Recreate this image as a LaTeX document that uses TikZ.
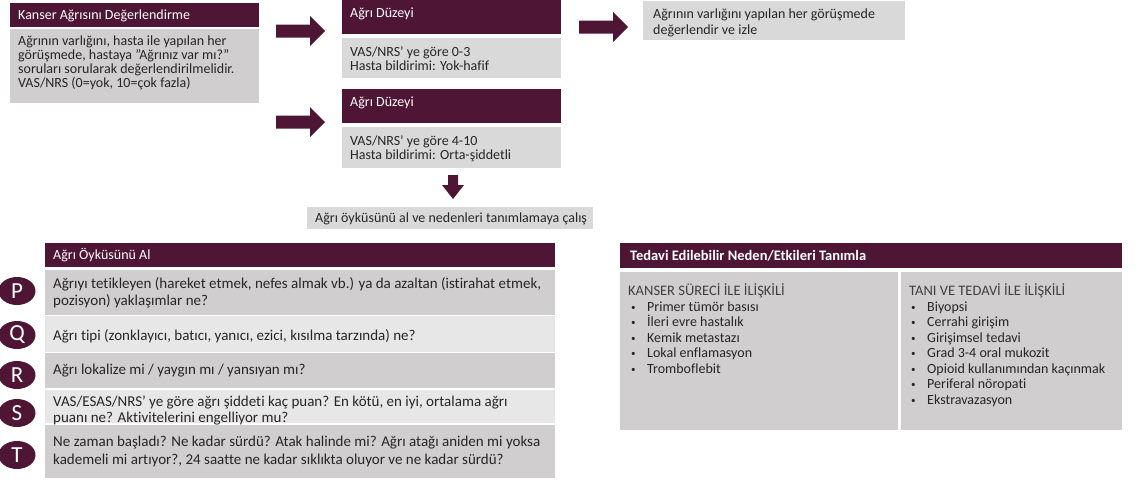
\documentclass[tikz,border=0pt]{standalone}
\usepackage{fontspec}
\setmainfont{Carlito}[Ligatures={TeX,NoCommon}]
\usetikzlibrary{calc,shapes.geometric}
\definecolor{maroon}{HTML}{4E1534}
\definecolor{lgray}{HTML}{D9D9D9}
\definecolor{mgray}{HTML}{D0CECE}
\definecolor{pgray}{HTML}{E8E7E7}
\definecolor{txt}{HTML}{262626}
\definecolor{subtxt}{HTML}{404040}
\tikzset{
  box/.style={draw=none, anchor=north west, inner sep=0pt, outer sep=0pt},
  hdr/.style={box, fill=maroon},
  hdrtxt/.style={text=white, anchor=base west, inner sep=0pt, font=\fontsize{14}{14}\selectfont},
  boldtxt/.style={hdrtxt, font=\fontsize{14.5}{14}\selectfont\bfseries},
  btxt/.style={text=txt, anchor=base west, inner sep=0pt, align=left, font=\fontsize{14}{14}\selectfont},
  subhead/.style={btxt, text=subtxt, font=\fontsize{14.5}{14}\selectfont},
  rtxt/.style={text=txt, anchor=base west, inner sep=0pt, align=left, font=\fontsize{15}{17}\selectfont},
  letter/.style={ellipse, fill=maroon, text=white, minimum width=37pt, minimum height=28pt, inner sep=0pt, font=\fontsize{23}{23}\selectfont},
  rarr/.pic={\fill[maroon] (0,-6.5) -- (34,-6.5) -- (34,-15) -- (49,0) -- (34,15) -- (34,6.5) -- (0,6.5) -- cycle;},
  darr/.pic={\fill[maroon] (-5,0) -- (5,0) -- (5,10) -- (11,10) -- (0,24) -- (-11,10) -- (-5,10) -- cycle;},
}
\newcommand{\bul}[1]{\makebox[16pt][l]{\raisebox{1pt}{\fontsize{9}{9}\selectfont •}}#1}
\begin{document}
\begin{tikzpicture}[x=1pt, y=-1pt]
\useasboundingbox (0,0) rectangle (1143,480);
% top-left
\node[hdr, minimum width=249pt, minimum height=24pt] (hA) at (10,3) {};
\node[hdrtxt] (hAt) at (18,19.5) {Kanser Ağrısını Değerlendirme};
\node[box, fill=mgray, minimum width=249pt, minimum height=74pt] (bA) at (10,29) {};
\node[btxt] at (18,45) {Ağrının varlığını, hasta ile yapılan her};
\node[btxt] at (18,59) {görüşmede, hastaya \symbol{"22}Ağrınız var mı?\symbol{"22}};
\node[btxt] at (18,73) {soruları sorularak değerlendirilmelidir.};
\node[btxt] at (18,87) {VAS/NRS (0=yok, 10=çok fazla)};
% arrows
\pic at (276,31) {rarr};
\pic at (276,122) {rarr};
\pic at (579,27) {rarr};
% middle top
\node[hdr, minimum width=219pt, minimum height=34pt] (hB1) at (342,0) {};
\node[hdrtxt] at (350,17.5) {Ağrı Düzeyi};
\node[box, fill=lgray, minimum width=219pt, minimum height=40pt] (bB1) at (342,38) {};
\node[btxt] at (350,56) {VAS/NRS' ye göre 0-3};
\node[btxt] at (350,70) {Hasta bildirimi: Yok-hafif};
\node[hdr, minimum width=219pt, minimum height=34pt] (hB2) at (342,89) {};
\node[hdrtxt] at (350,106) {Ağrı Düzeyi};
\node[box, fill=lgray, minimum width=219pt, minimum height=41pt] (bB2) at (342,127) {};
\node[btxt] at (350,145) {VAS/NRS' ye göre 4-10};
\node[btxt] at (350,159) {Hasta bildirimi: Orta-şiddetli};
% top right
\node[box, fill=lgray, minimum width=262pt, minimum height=39pt] (bC) at (643,1) {};
\node[btxt] at (653,18) {Ağrının varlığını yapılan her görüşmede};
\node[btxt] at (653,34.5) {değerlendir ve izle};
% down arrow and middle box
\pic at (453,175) {darr};
\node[box, fill=lgray, minimum width=286pt, minimum height=22pt] (bD) at (307,207) {};
\node[btxt] at (315,222) {Ağrı öyküsünü al ve nedenleri tanımlamaya çalış};
% left table
\node[hdr, minimum width=510pt, minimum height=24pt] (hE) at (45,243) {};
\node[hdrtxt] at (53,259) {Ağrı Öyküsünü Al};
\node[box, fill=mgray, minimum width=510pt, minimum height=45pt] (rP) at (45,270) {};
\node[box, fill=pgray, minimum width=510pt, minimum height=36pt] (rQ) at (45,316) {};
\node[box, fill=mgray, minimum width=510pt, minimum height=35pt] (rR) at (45,353) {};
\node[box, fill=pgray, minimum width=510pt, minimum height=33pt] (rS) at (45,390) {};
\node[box, fill=mgray, minimum width=510pt, minimum height=53pt] (rT) at (45,425) {};
\node[rtxt] at (53,288) {Ağrıyı tetikleyen (hareket etmek, nefes almak vb.) ya da azaltan (istirahat etmek,};
\node[rtxt] at (53,305) {pozisyon) yaklaşımlar ne?};
\node[rtxt] at (53,340) {Ağrı tipi (zonklayıcı, batıcı, yanıcı, ezici, kısılma tarzında) ne?};
\node[rtxt] at (53,374) {Ağrı lokalize mi / yaygın mı / yansıyan mı?};
\node[rtxt] at (53,406) {VAS/ESAS/NRS' ye göre ağrı şiddeti kaç puan? En kötü, en iyi, ortalama ağrı};
\node[rtxt] at (53,422.5) {puanı ne? Aktivitelerini engelliyor mu?};
\node[rtxt] at (53,446) {Ne zaman başladı? Ne kadar sürdü? Atak halinde mi? Ağrı atağı aniden mi yoksa};
\node[rtxt] at (53,464) {kademeli mi artıyor?, 24 saatte ne kadar sıklıkta oluyor ve ne kadar sürdü?};
\node[letter] (cP) at (17,291) {P};
\node[letter] (cQ) at (17,335) {Q};
\node[letter] (cR) at (17,375) {R};
\node[letter] (cS) at (17,413) {S};
\node[letter] (cT) at (17,455) {T};
% right table
\node[hdr, minimum width=502pt, minimum height=25pt] (hF) at (620,243) {};
\node[boldtxt] at (630,260) {Tedavi Edilebilir Neden/Etkileri Tanımla};
\node[box, fill=mgray, minimum width=278pt, minimum height=158pt] (bF1) at (620,272) {};
\node[box, fill=mgray, minimum width=221pt, minimum height=158pt] (bF2) at (901,272) {};
\node[subhead] at (628,295) {KANSER SÜRECİ İLE İLİŞKİLİ};
\node[btxt] at (631,311) {\bul{Primer tümör basısı}};
\node[btxt] at (631,326.5) {\bul{İleri evre hastalık}};
\node[btxt] at (631,342) {\bul{Kemik metastazı}};
\node[btxt] at (631,357.5) {\bul{Lokal enflamasyon}};
\node[btxt] at (631,373) {\bul{Tromboflebit}};
\node[subhead] at (909,295) {TANI VE TEDAVİ İLE İLİŞKİLİ};
\node[btxt] at (911,311) {\bul{Biyopsi}};
\node[btxt] at (911,326.5) {\bul{Cerrahi girişim}};
\node[btxt] at (911,342) {\bul{Girişimsel tedavi}};
\node[btxt] at (911,357.5) {\bul{Grad 3-4 oral mukozit}};
\node[btxt] at (911,373) {\bul{Opioid kullanımından kaçınmak}};
\node[btxt] at (911,388.5) {\bul{Periferal nöropati}};
\node[btxt] at (911,404) {\bul{Ekstravazasyon}};
\end{tikzpicture}
\end{document}
